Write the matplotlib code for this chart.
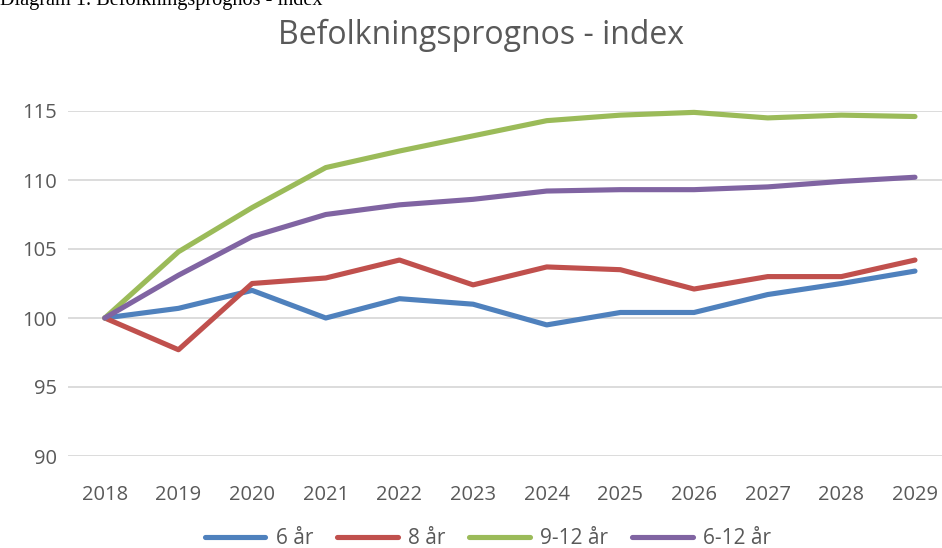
import matplotlib
matplotlib.use("Agg")
import matplotlib.pyplot as plt

years = ["2018", "2019", "2020", "2021", "2022", "2023", "2024", "2025", "2026", "2027", "2028", "2029"]
s6 = [100, 100.7, 102.0, 100.0, 101.4, 101.0, 99.5, 100.4, 100.4, 101.7, 102.5, 103.4]
s8 = [100, 97.7, 102.5, 102.9, 104.2, 102.4, 103.7, 103.5, 102.1, 103.0, 103.0, 104.2]
s912 = [100, 104.8, 108.0, 110.9, 112.1, 113.2, 114.3, 114.7, 114.9, 114.5, 114.7, 114.6]
s612 = [100, 103.1, 105.9, 107.5, 108.2, 108.6, 109.2, 109.3, 109.3, 109.5, 109.9, 110.2]
labels = ["6 år", "8 år", "9-12 år", "6-12 år"]
colors = ["#4F81BD", "#C0504D", "#9BBB59", "#8064A2"]
yticks = [90, 95, 100, 105, 110, 115]

plt.rcParams['font.family'] = ['Open Sans', 'DejaVu Sans']
fig = plt.figure(figsize=(9.42, 5.48), dpi=100)
ax = fig.add_axes([68/942, 1-456/548, 1-68/942, (456-111)/548])

x = list(range(len(years)))
for s, lab, c in zip([s6, s8, s912, s612], labels, colors):
    ax.plot(x, s, color=c, lw=3.7, label=lab, solid_capstyle='round', solid_joinstyle='round', clip_on=False, zorder=3)

ax.set_ylim(90, 115)
ax.set_yticks(yticks)
ax.set_xticks(x)
ax.set_xticklabels(years)
ax.set_xlim(-0.5, 11 + 27/73.6)
for sp in ax.spines.values():
    sp.set_visible(False)
ax.grid(axis='y', color='#D9D9D9', lw=1.3)
ax.set_axisbelow(True)
ax.tick_params(length=0, labelsize=14.5, colors='#595959', pad=8)
ax.tick_params(axis='x', pad=21)

fig.text(481/942, 1-35/548, "Befolkningsprognos - index", ha='center', va='center', fontsize=23, color='#595959')
fig.text(0, 1-5/548, "Diagram 1. Befolkningsprognos - index", ha='left', va='baseline', fontsize=14.6, family='Liberation Serif', color='#000000')

leg = fig.legend(loc='center', bbox_to_anchor=(488/942, 1-539/548), ncol=4, frameon=False,
                 fontsize=15, handlelength=2.9, columnspacing=1.15, handletextpad=0.5)
for t in leg.get_texts():
    t.set_color('#595959')

fig.savefig("out.png", dpi=100)
